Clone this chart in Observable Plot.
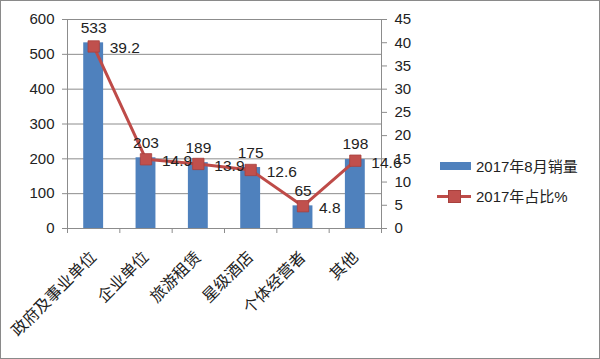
<!DOCTYPE html>
<html><head><meta charset="utf-8">
<script src="https://cdn.jsdelivr.net/npm/d3@7"></script>
<script src="https://cdn.jsdelivr.net/npm/@observablehq/plot@0.6"></script>
<style>
body{margin:0;background:#fff;}
#wrap{position:relative;width:598px;height:357px;border:1px solid #8a8a8a;background:#fff;overflow:hidden;}
#wrap svg{position:absolute;left:0;top:0;}
.leg{position:absolute;left:436px;font-family:"Liberation Sans","Noto Sans CJK SC",sans-serif;font-size:15px;color:#222;display:flex;align-items:center;white-space:nowrap;}
.sw-bar{width:31px;height:8px;background:#4F81BD;margin-right:5px;margin-left:3px;}
.sw-line{position:relative;width:34px;height:12px;margin-right:5px;}
.sw-line .ln{position:absolute;left:0;right:0;top:5px;height:3px;background:#BE4B48;}
.sw-line .mk{position:absolute;left:11px;top:0;width:11px;height:11px;background:#C0504D;border:0.5px solid #A8403D;}
</style></head><body><div id="wrap"></div>
<script>
const categories = ["政府及事业单位","企业单位","旅游租赁","星级酒店","个体经营者","其他"];
const sales = [533, 203, 189, 175, 65, 198];
const share = [39.2, 14.9, 13.9, 12.6, 4.8, 14.6];
const leftTicks = [0,100,200,300,400,500,600];
const rightTicks = [0,5,10,15,20,25,30,35,40,45];
const seriesNames = ["2017年8月销量","2017年占比%"];

const yMax = 600, rMax = 45;
const toLeft = v => v * yMax / rMax;
const data = categories.map((c,i)=>({c, i, sales: sales[i], share: share[i]}));
const cx = d => d.i + 0.5;
const grey = "#8c8c8c";

const chart = Plot.plot({
  width: 598, height: 357,
  marginLeft: 66, marginRight: 218, marginTop: 18, marginBottom: 130,
  x: {type: "linear", domain: [0, categories.length], axis: null},
  y: {domain: [0, yMax], axis: null},
  style: {fontFamily: "Liberation Sans, Noto Sans CJK SC, sans-serif", fontSize: "15px", color: "#222", background: "transparent"},
  marks: [
    Plot.gridY(leftTicks, {stroke: grey, strokeOpacity: 1}),
    Plot.axisY(leftTicks, {anchor: "left", tickSize: 5, tickPadding: 8, stroke: grey, fill: "#222", tickFormat: d => d, label: null}),
    Plot.axisY(rightTicks.map(toLeft), {anchor: "right", tickSize: 5, tickPadding: 8, stroke: grey, fill: "#222", tickFormat: d => Math.round(d * rMax / yMax), label: null}),
    Plot.ruleX([0, categories.length], {stroke: grey}),
    Plot.axisX(d3.range(categories.length + 1), {anchor: "bottom", tickSize: 5, stroke: grey, tickFormat: () => "", label: null}),
    Plot.axisX(data.map(cx), {anchor: "bottom", tickSize: 0, tickPadding: 26, tickRotate: -45, tickFormat: d => categories[Math.floor(d)], fontSize: 16, fontFamily: "Noto Sans CJK SC", fill: "#222", label: null}),
    Plot.rectY(data, {x1: d => d.i + 0.31, x2: d => d.i + 0.69, y: "sales", fill: "#4F81BD"}),
    Plot.line(data, {x: cx, y: d => toLeft(d.share), stroke: "#BE4B48", strokeWidth: 3}),
    Plot.dot(data, {x: cx, y: d => toLeft(d.share), symbol: "square", r: 6.4, fill: "#C0504D", stroke: "#A8403D", strokeWidth: 0.8}),
    Plot.text(data, {x: cx, y: "sales", text: d => String(d.sales), dy: -15, fill: "#222", fontSize: 15.5}),
    Plot.text(data, {x: cx, y: d => toLeft(d.share), text: d => d.share.toFixed(1), textAnchor: "start", dx: 16, dy: 2, fill: "#222", fontSize: 15.5})
  ]
});
const wrap = document.getElementById("wrap");
wrap.appendChild(chart);

const l1 = document.createElement("div");
l1.className = "leg"; l1.style.top = "154px";
l1.innerHTML = `<div class="sw-bar"></div><span>${seriesNames[0]}</span>`;
const l2 = document.createElement("div");
l2.className = "leg"; l2.style.top = "184px";
l2.innerHTML = `<div class="sw-line"><div class="ln"></div><div class="mk"></div></div><span>${seriesNames[1]}</span>`;
wrap.appendChild(l1); wrap.appendChild(l2);
</script></body></html>
